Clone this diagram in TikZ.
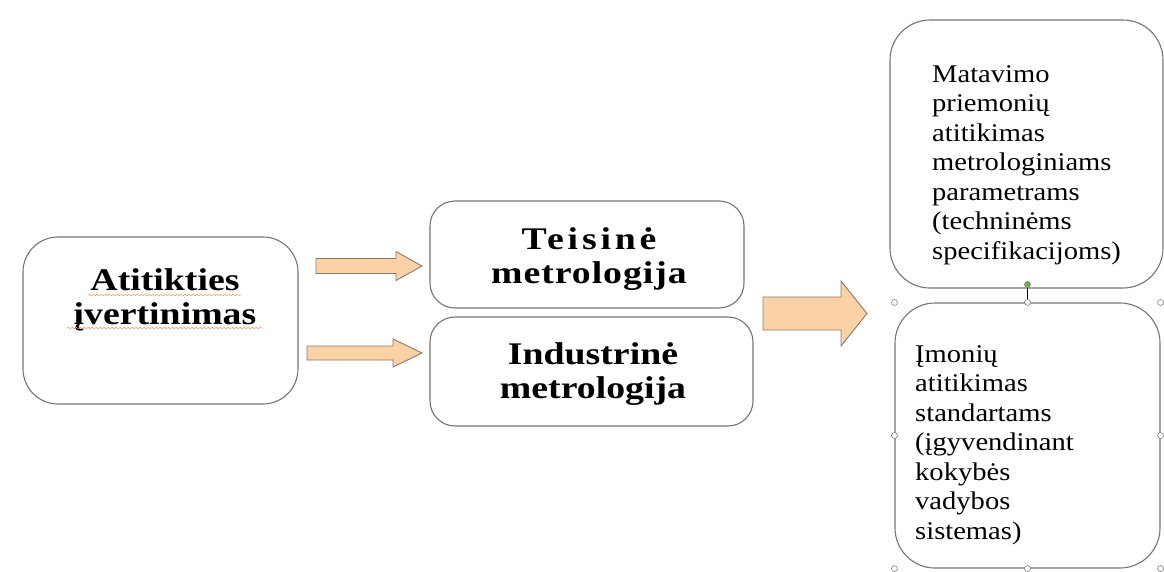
\documentclass[tikz,border=0pt]{standalone}
\usepackage{fontspec}
\setmainfont{Liberation Serif}
\newfontfamily\widefont[FakeStretch=1.2]{Liberation Serif}
\newfontfamily\midfont[FakeStretch=1.12]{Liberation Serif}
\usetikzlibrary{calc}
\usetikzlibrary{decorations.pathmorphing}

\definecolor{peach}{RGB}{250,210,165}
\definecolor{arrowline}{RGB}{140,122,108}
\definecolor{boxline}{RGB}{122,116,112}
\definecolor{squiggle}{RGB}{240,150,100}
\definecolor{handlegreen}{RGB}{112,178,82}

\tikzset{
 roundbox/.style={draw=boxline, line width=1.1pt, rounded corners=#1, inner sep=0pt},
 roundbox/.default=25pt,
 boldtext/.style={font=\widefont\bfseries\fontsize{31.5}{34.5}\selectfont, align=center, inner sep=0pt},
 plaintext/.style={font=\midfont\fontsize{25.5}{29.5}\selectfont, align=left, inner sep=0pt},
 blockarrow/.style={draw=arrowline, fill=peach, line width=0.9pt, line join=miter},
 handle/.style={draw=gray, fill=white, line width=0.6pt},
 spell/.style={draw=squiggle, line width=0.5pt, decorate,
   decoration={snake, amplitude=0.7pt, segment length=4pt}}
}

\begin{document}
\begin{tikzpicture}[x=1pt, y=-1pt]
\useasboundingbox (0,0) rectangle (1164,571);
\fill[white] (0,0) rectangle (1164,571);

% boxes
\node[roundbox=35pt, minimum width=275pt, minimum height=167pt] (start) at (160.5,320.5) {};
\node[roundbox, minimum width=314pt, minimum height=107pt] (legal) at (587,254.5) {};
\node[roundbox, minimum width=323pt, minimum height=109pt] (indust) at (591.5,371.5) {};
\node[roundbox=40pt, minimum width=273pt, minimum height=268pt] (meas) at (1026.5,154) {};
\node[roundbox=40pt, minimum width=265pt, minimum height=265pt] (firms) at (1027.5,435.5) {};

% texts
\node[boldtext] (startlbl) at (165,300) {Atitikties\\įvertinimas};
\node[boldtext] (legallbl) at (589,259) {{\addfontfeature{LetterSpace=12}Teisinė}\\{\addfontfeature{LetterSpace=3}metrologija}};
\node[boldtext] (industlbl) at (593,374) {Industrinė\\metrologija};
\node[plaintext, anchor=west] (measlbl) at (932,165) {Matavimo\\priemonių\\atitikimas\\metrologiniams\\parametrams\\(techninėms\\specifikacijoms)};
\node[plaintext, anchor=west] (firmslbl) at (915,445) {Įmonių\\atitikimas\\standartams\\(įgyvendinant\\kokybės\\vadybos\\sistemas)};

% spelling marks
\draw[spell] (88,295) -- (242,295);
\draw[spell] (67,328) -- (262,328);

% arrows
\foreach \xs/\xh/\xt/\yc/\sh/\hh in {316/396/422/266/7.5/14.5, 307/393/422/353/7/14, 763/841/867/313.5/16.5/32.5}
 \draw[blockarrow] (\xs,\yc-\sh) -- (\xh,\yc-\sh) -- (\xh,\yc-\hh) -- (\xt,\yc)
   -- (\xh,\yc+\hh) -- (\xh,\yc+\sh) -- (\xs,\yc+\sh) -- cycle;

% selection handles
\node[circle, fill=handlegreen, draw=handlegreen!70!black, inner sep=0pt, minimum size=6pt] (rot) at ($(firms.north)+(0,-18)$) {};
\draw[line width=0.8pt] (rot) -- (firms.north);
\foreach \a in {north west, north, north east, west, east, south west, south, south east}
 \draw[handle] (firms.\a) circle (3pt);
\end{tikzpicture}
\end{document}
